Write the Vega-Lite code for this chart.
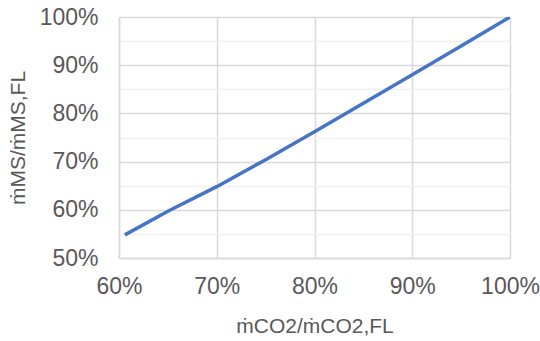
{
  "$schema": "https://vega.github.io/schema/vega-lite/v6.json",
  "width": 391,
  "height": 241,
  "autosize": {"type": "none"},
  "padding": {"left": 119, "top": 17, "right": 30, "bottom": 83},
  "background": "white",
  "config": {
    "view": {"stroke": null},
    "font": "Liberation Sans",
    "axis": {
      "labelFont": "Liberation Sans",
      "titleFont": "Liberation Sans",
      "labelFontSize": 23,
      "titleFontSize": 21,
      "labelColor": "#595959",
      "titleColor": "#595959",
      "titleFontWeight": "normal",
      "ticks": false,
      "labelFlush": false,
      "labelOverlap": false,
      "domainColor": "#d9d9d9",
      "domainWidth": 1.5,
      "gridWidth": 1.5
    }
  },
  "data": {
    "values": [
      {"x": 0.606, "y": 0.548},
      {"x": 0.65, "y": 0.597},
      {"x": 0.70, "y": 0.648},
      {"x": 0.75, "y": 0.704},
      {"x": 0.80, "y": 0.762},
      {"x": 0.85, "y": 0.821},
      {"x": 0.90, "y": 0.880},
      {"x": 0.95, "y": 0.940},
      {"x": 1.00, "y": 1.000}
    ]
  },
  "mark": {"type": "line", "color": "#4874C8", "strokeWidth": 3.5, "clip": true},
  "encoding": {
    "x": {
      "field": "x",
      "type": "quantitative",
      "scale": {"domain": [0.6, 1.0], "nice": false, "zero": false},
      "axis": {
        "values": [0.6, 0.7, 0.8, 0.9, 1.0],
        "format": ".0%",
        "labelPadding": 17,
        "gridColor": "#d9d9d9",
        "title": "ṁCO2/ṁCO2,FL",
        "titlePadding": 17
      }
    },
    "y": {
      "field": "y",
      "type": "quantitative",
      "scale": {"domain": [0.5, 1.0], "nice": false, "zero": false},
      "axis": {
        "values": [0.5, 0.55, 0.6, 0.65, 0.7, 0.75, 0.8, 0.85, 0.9, 0.95, 1.0],
        "format": ".0%",
        "labelExpr": "round(datum.value*100) % 10 == 0 ? datum.label : ''",
        "labelPadding": 21,
        "gridColor": {"condition": {"test": "round(datum.value*100) % 10 != 0", "value": "#f0f0f0"}, "value": "#d9d9d9"},
        "title": "ṁMS/ṁMS,FL",
        "titlePadding": 11
      }
    }
  }
}
